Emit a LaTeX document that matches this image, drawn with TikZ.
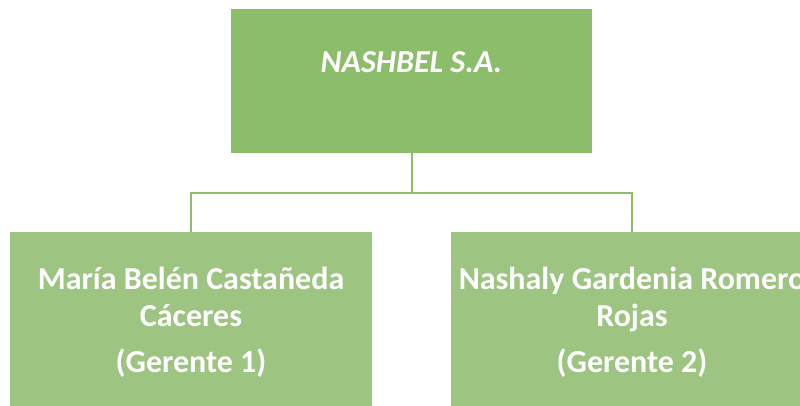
\documentclass[tikz,border=0pt]{standalone}
\usepackage{fontspec}
\setmainfont{Carlito}
\usepackage{tikz}
\usepackage{xcolor}
\usetikzlibrary{positioning}

\definecolor{verdeTop}{RGB}{140,189,106}
\definecolor{verdeBajo}{RGB}{157,196,128}
\definecolor{verdeLinea}{RGB}{140,189,106}

\tikzset{
    jefe/.style={fill=verdeTop, minimum width=361pt, minimum height=144pt, inner sep=0pt},
    gerente/.style={fill=verdeBajo, minimum width=362pt, minimum height=190pt, inner sep=0pt},
    rotulo/.style={text=white, font=\bfseries\fontsize{32}{37}\selectfont, align=center, inner sep=0pt},
    conector/.style={draw=verdeLinea, line width=2pt}
}

\begin{document}
\begin{tikzpicture}[x=1pt, y=1pt]
                    \useasboundingbox (0, 0) rectangle (800, -405);
                    \clip (0, 0) rectangle (800, -405);

                    \node[jefe] (empresa) at (411.5, -81) {};
                    \node[gerente] (gerente1) at (191, -327) {};
                    \node[gerente] (gerente2) at (632, -327) {};

                    \node[rotulo, anchor=base] (empresaTxt) at (411.5, -72) {\itshape NASHBEL S.A.};
                    \node[rotulo, anchor=north] (gerente1Txt) at (191, -267)
                        {María Belén Castañeda\\Cáceres\\[9pt](Gerente 1)};
                    \node[rotulo, anchor=north] (gerente2Txt) at (632, -267)
                        {Nashaly Gardenia Romero\\Rojas\\[9pt](Gerente 2)};

                    \draw[conector]
                    (empresa.south) -- ++(0, -40) -| (gerente1.north)
                    (empresa.south) -- ++(0, -40) -| (gerente2.north);
                \end{tikzpicture}
\end{document}
